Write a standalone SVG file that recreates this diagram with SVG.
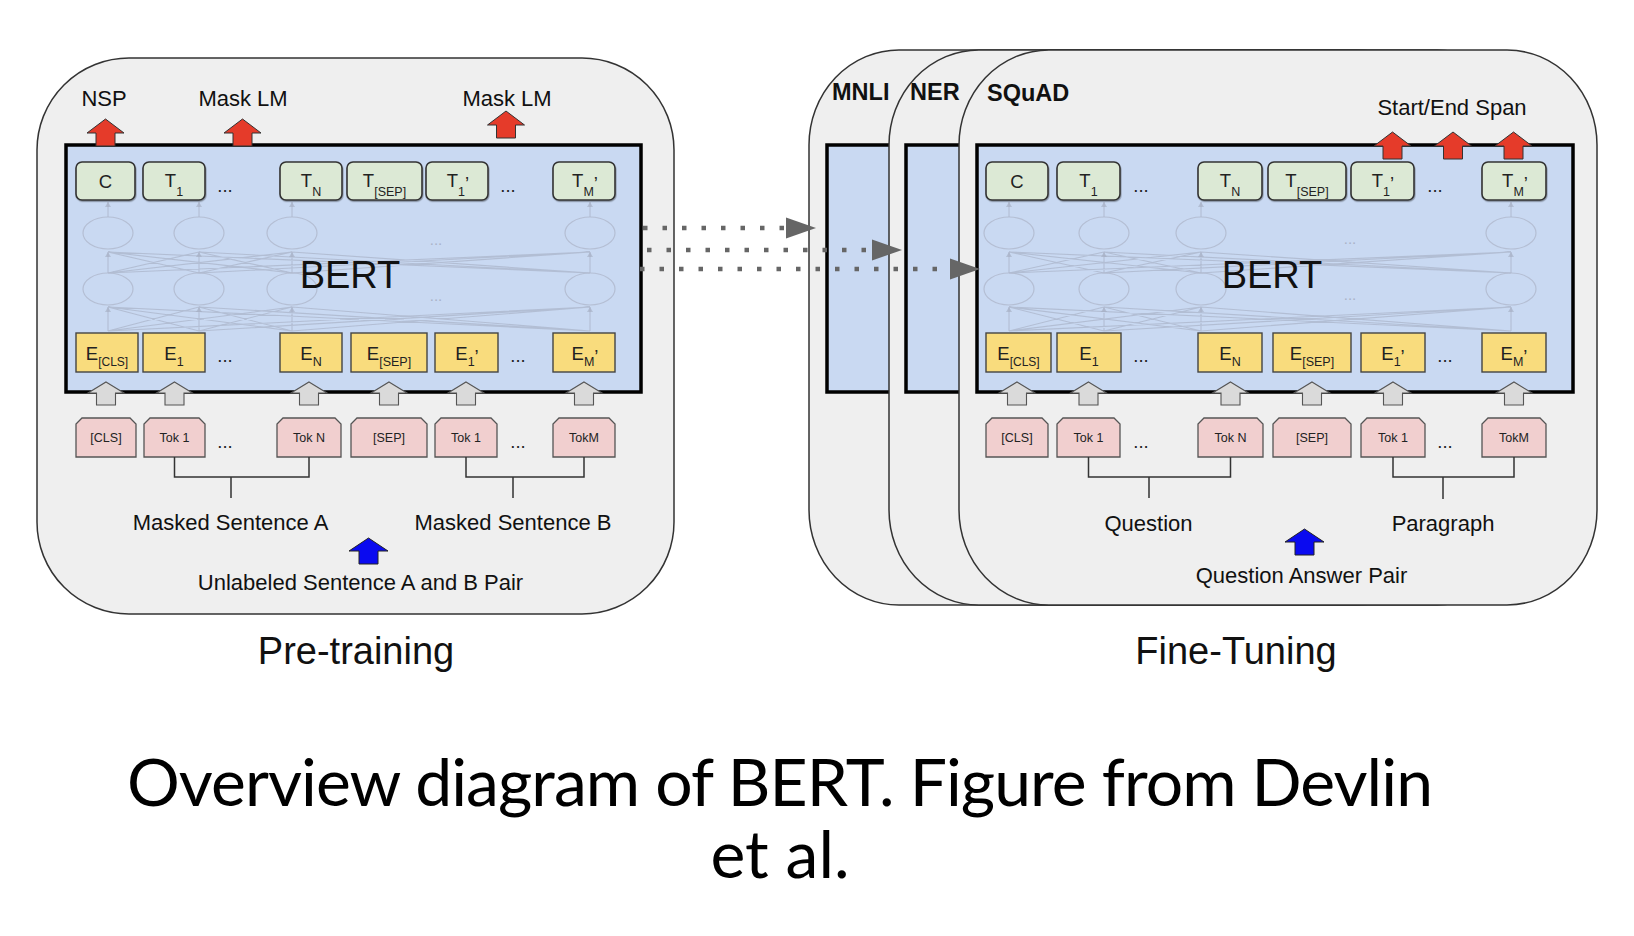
<svg xmlns="http://www.w3.org/2000/svg" width="1634" height="936" viewBox="0 0 1634 936">
<style>
.outer{fill:#efefef;stroke:#333;stroke-width:1.5}
.bert{fill:#c9d9f2;stroke:#000;stroke-width:3.5}
.tbox{fill:#dce9d5;stroke:#333;stroke-width:1.6;filter:url(#sh)}
.ebox{fill:#f9dc7d;stroke:#444;stroke-width:1.4}
.tok{fill:#f1cfcf;stroke:#555;stroke-width:1.3}
.f{font-family:"Liberation Sans",Arial,sans-serif;fill:#111}
.bx{font-size:18.5px;text-anchor:middle;fill:#222}
.tk{font-size:12.5px;text-anchor:middle;fill:#222}
.lb{font-size:22px;text-anchor:middle}
.bold{font-size:23.5px;font-weight:bold}
.net{stroke:#a3acbf;stroke-width:1.1;fill:none;opacity:0.6}
.nah{fill:#a3acbf;opacity:0.6}
.ell{fill:none;stroke:#adb6c9;stroke-width:1.2;opacity:0.75}
.fd{font-size:15px;fill:#a9b3c7;text-anchor:middle}
.red{fill:#e53b2a;stroke:#333;stroke-width:1}
.gray{fill:#dadada;stroke:#555;stroke-width:1.1}
.blue{fill:#0a0af0;stroke:#222;stroke-width:1}
.brk{fill:none;stroke:#333;stroke-width:1.5}
.dot{fill:none;stroke:#666;stroke-width:4.5;stroke-dasharray:4.5 15}
</style>
<defs>
<filter id="sh" x="-10%" y="-10%" width="130%" height="140%"><feDropShadow dx="0.6" dy="1.2" stdDeviation="0.7" flood-color="#000" flood-opacity="0.35"/></filter>
<path id="rarrow" d="M0,0 L18.5,14 L9.5,14 L9.5,27 L-9.5,27 L-9.5,14 L-18.5,14 Z"/>
<path id="garrow" d="M0,0 L18,11 L9.5,11 L9.5,23 L-9.5,23 L-9.5,11 L-18,11 Z"/>
<path id="barrow" d="M0,0 L19.5,13 L9.5,13 L9.5,26 L-9.5,26 L-9.5,13 L-19.5,13 Z"/>
</defs>
<rect width="1634" height="936" fill="#fff"/>

<!-- Pre-training panel -->
<g id="pretrain">
<rect class="outer" x="37" y="58" width="637" height="556" rx="92" ry="92"/>
<text class="f lb" x="104" y="106">NSP</text>
<text class="f lb" x="243" y="106">Mask LM</text>
<text class="f lb" x="507" y="106">Mask LM</text>
<rect class="bert" x="66" y="145" width="575" height="247"/>
<path class="net" d="M108 273L108 252M108 273L199 252M108 273L292 252M108 273L590 252M199 273L108 252M199 273L199 252M199 273L292 252M199 273L590 252M292 273L108 252M292 273L199 252M292 273L292 252M292 273L590 252M590 273L108 252M590 273L199 252M590 273L292 252M590 273L590 252"/>
<path class="net" d="M108 331L108 307M108 331L199 307M108 331L292 307M108 331L590 307M199 331L108 307M199 331L199 307M199 331L292 307M199 331L590 307M292 331L108 307M292 331L199 307M292 331L292 307M292 331L590 307M590 331L108 307M590 331L199 307M590 331L292 307M590 331L590 307"/>
<path class="net" d="M108 217V202M199 217V202M292 217V202M590 217V202"/>
<path class="nah" d="M105 257L108 252L111 257ZM196 257L199 252L202 257ZM289 257L292 252L295 257ZM587 257L590 252L593 257ZM105 312L108 307L111 312ZM196 312L199 307L202 312ZM289 312L292 307L295 312ZM587 312L590 307L593 312ZM105 207L108 202L111 207ZM196 207L199 202L202 207ZM289 207L292 202L295 207ZM587 207L590 202L593 207Z"/>
<ellipse class="ell" cx="108" cy="233" rx="25" ry="16"/><ellipse class="ell" cx="199" cy="233" rx="25" ry="16"/><ellipse class="ell" cx="292" cy="233" rx="25" ry="16"/><ellipse class="ell" cx="590" cy="233" rx="25" ry="16"/>
<ellipse class="ell" cx="108" cy="289" rx="25" ry="16"/><ellipse class="ell" cx="199" cy="289" rx="25" ry="16"/><ellipse class="ell" cx="292" cy="289" rx="25" ry="16"/><ellipse class="ell" cx="590" cy="289" rx="25" ry="16"/>
<text class="f fd" x="436" y="245">...</text><text class="f fd" x="436" y="301">...</text>
<text class="f" x="350" y="288" font-size="38" text-anchor="middle">BERT</text>
<rect class="tbox" x="76" y="162" width="59" height="38" rx="6"/>
<rect class="tbox" x="143" y="162" width="62" height="38" rx="6"/>
<rect class="tbox" x="280" y="162" width="62" height="38" rx="6"/>
<rect class="tbox" x="347" y="162" width="75" height="38" rx="6"/>
<rect class="tbox" x="426" y="162" width="62" height="38" rx="6"/>
<rect class="tbox" x="553" y="162" width="62" height="38" rx="6"/>
<text class="f bx" x="105.5" y="188">C</text>
<text class="f bx" x="174" y="187">T<tspan dy="8.5" font-size="12.5">1</tspan></text>
<text class="f bx" x="225" y="192">...</text>
<text class="f bx" x="311" y="187">T<tspan dy="8.5" font-size="12.5">N</tspan></text>
<text class="f bx" x="384.5" y="187">T<tspan dy="8.5" font-size="12.5">[SEP]</tspan></text>
<text class="f bx" x="458" y="187">T<tspan dy="8.5" font-size="12.5">1</tspan><tspan dy="-5.5">’</tspan></text>
<text class="f bx" x="508" y="192">...</text>
<text class="f bx" x="585" y="187">T<tspan dy="8.5" font-size="12.5">M</tspan><tspan dy="-5.5">’</tspan></text>
<rect class="ebox" x="76" y="333" width="62" height="39"/>
<rect class="ebox" x="143" y="333" width="62" height="39"/>
<rect class="ebox" x="280" y="333" width="62" height="39"/>
<rect class="ebox" x="351" y="333" width="76" height="39"/>
<rect class="ebox" x="435" y="333" width="63" height="39"/>
<rect class="ebox" x="553" y="333" width="62" height="39"/>
<text class="f bx" x="107" y="360">E<tspan dy="6" font-size="12">[CLS]</tspan></text>
<text class="f bx" x="174" y="360">E<tspan dy="6" font-size="12.5">1</tspan></text>
<text class="f bx" x="225" y="362">...</text>
<text class="f bx" x="311" y="360">E<tspan dy="6" font-size="12.5">N</tspan></text>
<text class="f bx" x="389" y="360">E<tspan dy="6" font-size="12.5">[SEP]</tspan></text>
<text class="f bx" x="467" y="360">E<tspan dy="6" font-size="12.5">1</tspan><tspan dy="-3">’</tspan></text>
<text class="f bx" x="518" y="362">...</text>
<text class="f bx" x="585" y="360">E<tspan dy="6" font-size="12.5">M</tspan><tspan dy="-3">’</tspan></text>
<use href="#rarrow" class="red" x="105.5" y="119"/>
<use href="#rarrow" class="red" x="242.5" y="119"/>
<use href="#rarrow" class="red" x="506" y="111"/>
<use href="#garrow" class="gray" x="106" y="382"/>
<use href="#garrow" class="gray" x="174.5" y="382"/>
<use href="#garrow" class="gray" x="309" y="382"/>
<use href="#garrow" class="gray" x="389" y="382"/>
<use href="#garrow" class="gray" x="466" y="382"/>
<use href="#garrow" class="gray" x="584" y="382"/>
<path class="tok" d="M76 457V424L82 418H130L136 424V457Z"/>
<path class="tok" d="M144 457V424L150 418H199L205 424V457Z"/>
<path class="tok" d="M277 457V424L283 418H335L341 424V457Z"/>
<path class="tok" d="M351 457V424L357 418H421L427 424V457Z"/>
<path class="tok" d="M435 457V424L441 418H491L497 424V457Z"/>
<path class="tok" d="M553 457V424L559 418H609L615 424V457Z"/>
<text class="f tk" x="106" y="442">[CLS]</text>
<text class="f tk" x="174.5" y="442">Tok 1</text>
<text class="f bx" x="225" y="448">...</text>
<text class="f tk" x="309" y="442">Tok N</text>
<text class="f tk" x="389" y="442">[SEP]</text>
<text class="f tk" x="466" y="442">Tok 1</text>
<text class="f bx" x="518" y="448">...</text>
<text class="f tk" x="584" y="442">TokM</text>
<text class="f lb" x="230.5" y="530">Masked Sentence A</text>
<text class="f lb" x="513" y="530">Masked Sentence B</text>
<use href="#barrow" class="blue" x="368.5" y="538"/>
<text class="f lb" x="360.5" y="590">Unlabeled Sentence A and B Pair</text>
</g>

<!-- MNLI panel -->
<g id="mnli">
<rect class="outer" x="809" y="50" width="638" height="555" rx="90" ry="95"/>
<rect class="bert" x="827" y="145" width="590" height="247"/>
<text class="f bold" x="832" y="100">MNLI</text>
</g>

<!-- NER panel -->
<g id="ner">
<rect class="outer" x="889" y="50" width="638" height="555" rx="90" ry="95"/>
<rect class="bert" x="906" y="145" width="590" height="247"/>
<text class="f bold" x="910" y="100">NER</text>
</g>

<!-- SQuAD panel -->
<g id="squad">
<rect class="outer" x="959" y="50" width="638" height="555" rx="90" ry="95"/>
<text class="f bold" x="987" y="101">SQuAD</text>
<text class="f lb" x="1452" y="115">Start/End Span</text>
<rect class="bert" x="977" y="145" width="596" height="247"/>
<path class="net" d="M1009 273L1009 252M1009 273L1104 252M1009 273L1201 252M1009 273L1511 252M1104 273L1009 252M1104 273L1104 252M1104 273L1201 252M1104 273L1511 252M1201 273L1009 252M1201 273L1104 252M1201 273L1201 252M1201 273L1511 252M1511 273L1009 252M1511 273L1104 252M1511 273L1201 252M1511 273L1511 252"/>
<path class="net" d="M1009 331L1009 307M1009 331L1104 307M1009 331L1201 307M1009 331L1511 307M1104 331L1009 307M1104 331L1104 307M1104 331L1201 307M1104 331L1511 307M1201 331L1009 307M1201 331L1104 307M1201 331L1201 307M1201 331L1511 307M1511 331L1009 307M1511 331L1104 307M1511 331L1201 307M1511 331L1511 307"/>
<path class="net" d="M1009 217V202M1104 217V202M1201 217V202M1511 217V202"/>
<path class="nah" d="M1006 257L1009 252L1012 257ZM1101 257L1104 252L1107 257ZM1198 257L1201 252L1204 257ZM1508 257L1511 252L1514 257ZM1006 312L1009 307L1012 312ZM1101 312L1104 307L1107 312ZM1198 312L1201 307L1204 312ZM1508 312L1511 307L1514 312ZM1006 207L1009 202L1012 207ZM1101 207L1104 202L1107 207ZM1198 207L1201 202L1204 207ZM1508 207L1511 202L1514 207Z"/>
<ellipse class="ell" cx="1009" cy="233" rx="25" ry="16"/><ellipse class="ell" cx="1104" cy="233" rx="25" ry="16"/><ellipse class="ell" cx="1201" cy="233" rx="25" ry="16"/><ellipse class="ell" cx="1511" cy="233" rx="25" ry="16"/>
<ellipse class="ell" cx="1009" cy="289" rx="25" ry="16"/><ellipse class="ell" cx="1104" cy="289" rx="25" ry="16"/><ellipse class="ell" cx="1201" cy="289" rx="25" ry="16"/><ellipse class="ell" cx="1511" cy="289" rx="25" ry="16"/>
<text class="f fd" x="1350" y="244">...</text><text class="f fd" x="1350" y="300">...</text>
<text class="f" x="1272" y="288" font-size="38" text-anchor="middle">BERT</text>
<rect class="tbox" x="986" y="162" width="62" height="38" rx="6"/>
<rect class="tbox" x="1057" y="162" width="63" height="38" rx="6"/>
<rect class="tbox" x="1198" y="162" width="64" height="38" rx="6"/>
<rect class="tbox" x="1268" y="162" width="78" height="38" rx="6"/>
<rect class="tbox" x="1351" y="162" width="63" height="38" rx="6"/>
<rect class="tbox" x="1482" y="162" width="64" height="38" rx="6"/>
<text class="f bx" x="1017" y="188">C</text>
<text class="f bx" x="1088.5" y="187">T<tspan dy="8.5" font-size="12.5">1</tspan></text>
<text class="f bx" x="1141" y="192">...</text>
<text class="f bx" x="1230" y="187">T<tspan dy="8.5" font-size="12.5">N</tspan></text>
<text class="f bx" x="1307" y="187">T<tspan dy="8.5" font-size="12.5">[SEP]</tspan></text>
<text class="f bx" x="1383" y="187">T<tspan dy="8.5" font-size="12.5">1</tspan><tspan dy="-5.5">’</tspan></text>
<text class="f bx" x="1435" y="192">...</text>
<text class="f bx" x="1515" y="187">T<tspan dy="8.5" font-size="12.5">M</tspan><tspan dy="-5.5">’</tspan></text>
<rect class="ebox" x="986" y="333" width="65" height="39"/>
<rect class="ebox" x="1057" y="333" width="64" height="39"/>
<rect class="ebox" x="1198" y="333" width="64" height="39"/>
<rect class="ebox" x="1273" y="333" width="78" height="39"/>
<rect class="ebox" x="1361" y="333" width="64" height="39"/>
<rect class="ebox" x="1482" y="333" width="64" height="39"/>
<text class="f bx" x="1018.5" y="360">E<tspan dy="6" font-size="12">[CLS]</tspan></text>
<text class="f bx" x="1089" y="360">E<tspan dy="6" font-size="12.5">1</tspan></text>
<text class="f bx" x="1141" y="362">...</text>
<text class="f bx" x="1230" y="360">E<tspan dy="6" font-size="12.5">N</tspan></text>
<text class="f bx" x="1312" y="360">E<tspan dy="6" font-size="12.5">[SEP]</tspan></text>
<text class="f bx" x="1393" y="360">E<tspan dy="6" font-size="12.5">1</tspan><tspan dy="-3">’</tspan></text>
<text class="f bx" x="1445" y="362">...</text>
<text class="f bx" x="1514" y="360">E<tspan dy="6" font-size="12.5">M</tspan><tspan dy="-3">’</tspan></text>
<use href="#rarrow" class="red" x="1392.5" y="132"/>
<use href="#rarrow" class="red" x="1453" y="132"/>
<use href="#rarrow" class="red" x="1513.5" y="132"/>
<use href="#garrow" class="gray" x="1017" y="382"/>
<use href="#garrow" class="gray" x="1088.5" y="382"/>
<use href="#garrow" class="gray" x="1230.5" y="382"/>
<use href="#garrow" class="gray" x="1312" y="382"/>
<use href="#garrow" class="gray" x="1393" y="382"/>
<use href="#garrow" class="gray" x="1514" y="382"/>
<path class="tok" d="M986 457V424L992 418H1042L1048 424V457Z"/>
<path class="tok" d="M1057 457V424L1063 418H1114L1120 424V457Z"/>
<path class="tok" d="M1198 457V424L1204 418H1257L1263 424V457Z"/>
<path class="tok" d="M1273 457V424L1279 418H1345L1351 424V457Z"/>
<path class="tok" d="M1361 457V424L1367 418H1419L1425 424V457Z"/>
<path class="tok" d="M1482 457V424L1488 418H1540L1546 424V457Z"/>
<text class="f tk" x="1017" y="442">[CLS]</text>
<text class="f tk" x="1088.5" y="442">Tok 1</text>
<text class="f bx" x="1141" y="448">...</text>
<text class="f tk" x="1230.5" y="442">Tok N</text>
<text class="f tk" x="1312" y="442">[SEP]</text>
<text class="f tk" x="1393" y="442">Tok 1</text>
<text class="f bx" x="1445" y="448">...</text>
<text class="f tk" x="1514" y="442">TokM</text>
<text class="f lb" x="1148.5" y="531">Question</text>
<text class="f lb" x="1443" y="531">Paragraph</text>
<use href="#barrow" class="blue" x="1304.5" y="529"/>
<text class="f lb" x="1301.5" y="583">Question Answer Pair</text>
</g>

<g id="connectors">
<path class="brk" d="M174.5 457V477H309V457M231 477V498"/>
<path class="brk" d="M466 457V477H584V457M513 477V498"/>
<path class="brk" d="M1088.5 457V477H1230.5V457M1149 477V498"/>
<path class="brk" d="M1393 457V477H1514V457M1443 477V499"/>
<path class="dot" d="M643 228H786"/>
<path d="M786 217.5L816 228L786 238.5Z" fill="#666"/>
<path class="dot" d="M647 250H872"/>
<path d="M872 239.5L902 250L872 260.5Z" fill="#666"/>
<path class="dot" d="M640 269H950"/>
<path d="M950 258.5L980 269L950 279.5Z" fill="#666"/>
</g>

<g id="titles">
<text class="f" x="356" y="664" font-size="38" text-anchor="middle">Pre-training</text>
<text class="f" x="1236" y="664" font-size="38" text-anchor="middle">Fine-Tuning</text>
<text x="780" y="806" font-family="Lato, 'Noto Sans', sans-serif" font-size="66" text-anchor="middle" textLength="1306" lengthAdjust="spacing" fill="#000">Overview diagram of BERT. Figure from Devlin</text>
<text x="780" y="878" font-family="Lato, 'Noto Sans', sans-serif" font-size="66" text-anchor="middle" fill="#000">et al.</text>
</g>
</svg>
